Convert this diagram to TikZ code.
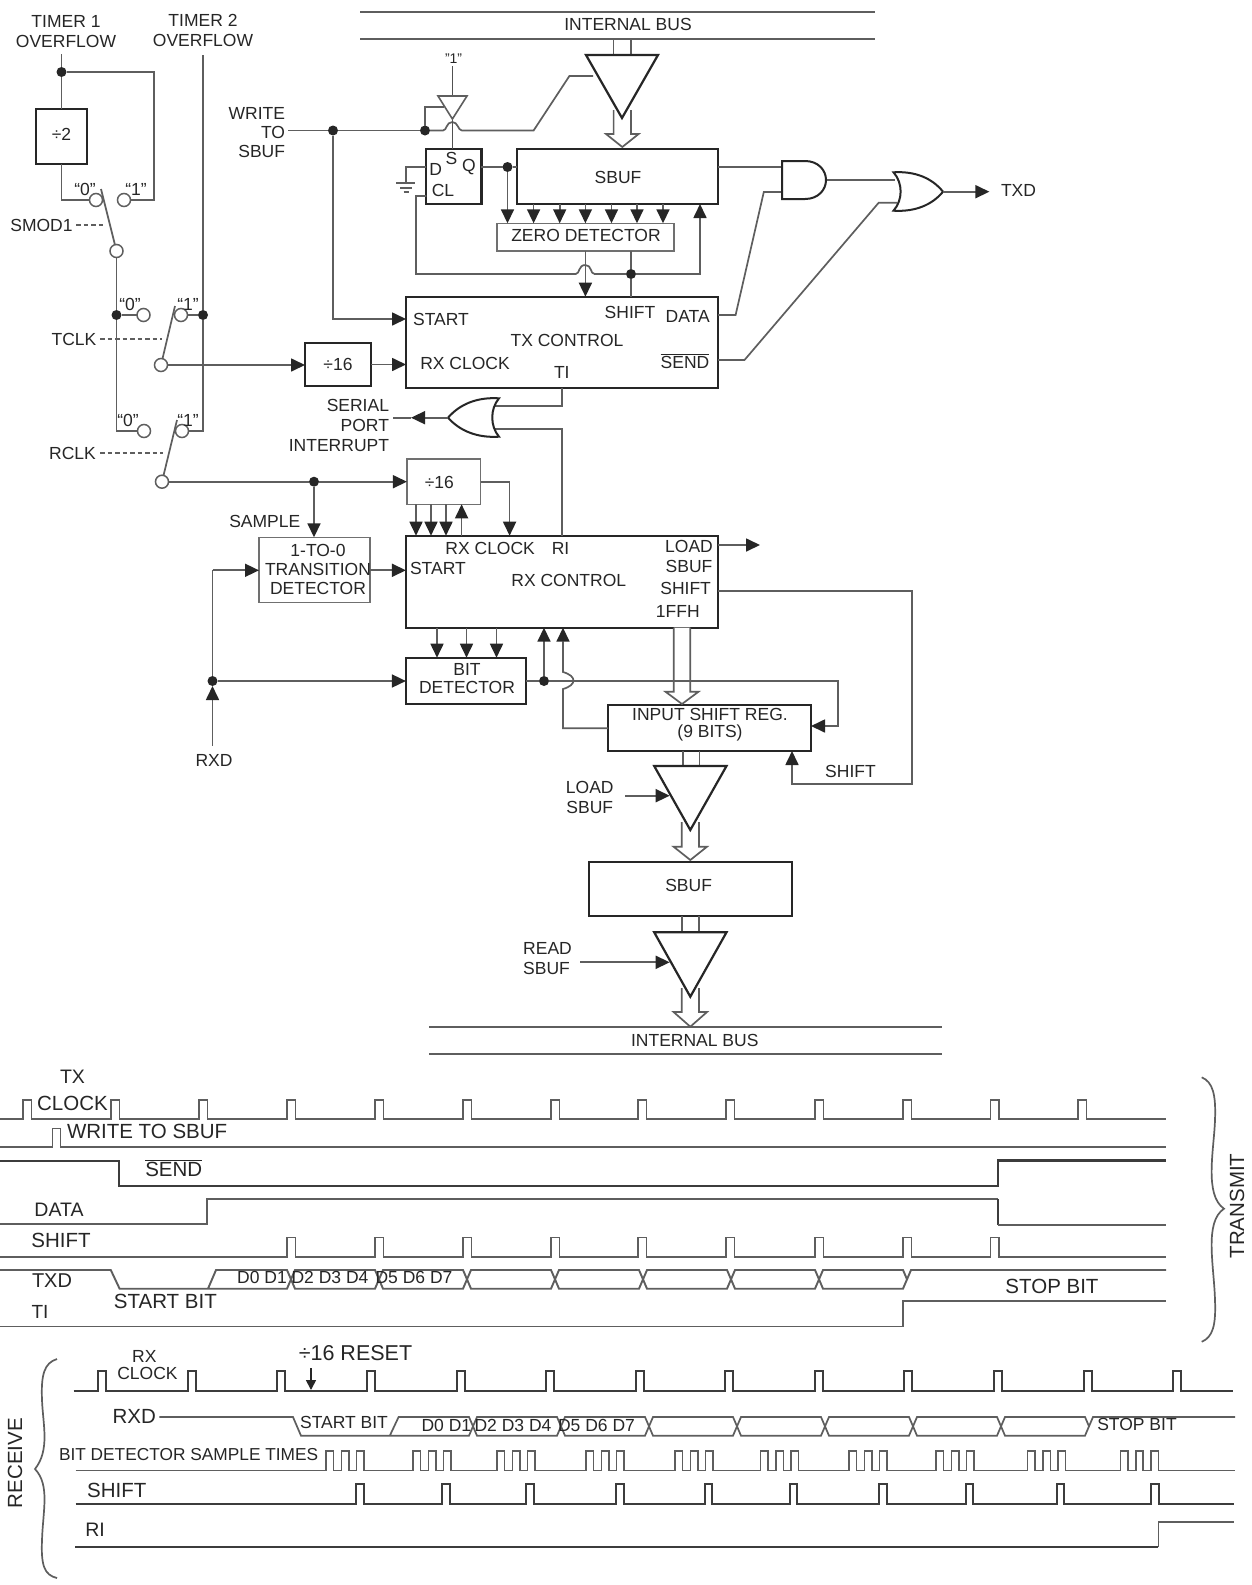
\documentclass[tikz,border=0pt]{standalone}
\usepackage{fontspec}
\setmainfont{Liberation Sans}
\usetikzlibrary{arrows.meta}
\definecolor{wirecol}{HTML}{5E5E5E}
\definecolor{inkcol}{HTML}{262626}
\definecolor{thincol}{HTML}{707070}
\tikzset{
  wire/.style={draw=wirecol,line width=1.7pt,line join=miter},
  arr/.style={wire,-{Triangle[length=14pt,width=13pt,color=inkcol]}},
  tiny wire/.style={draw=inkcol!80!white,line width=1.1pt},
  heavy/.style={draw=inkcol,line width=2.2pt},
  thickbox/.style={draw=inkcol,line width=2.2pt,fill=white,inner sep=0pt,outer sep=0pt,rectangle,font=\fontsize{17.5}{20}\selectfont,text=inkcol},
  thinbox/.style={draw=thincol,line width=1.4pt,fill=white,inner sep=0pt,outer sep=0pt,rectangle,font=\fontsize{17.5}{20}\selectfont,text=inkcol},
  lab/.style={inner sep=0pt,outer sep=0pt,text=inkcol,font=\fontsize{17.5}{20}\selectfont},
  big/.style={lab,font=\fontsize{20.5}{23}\selectfont},
  pin/.style={circle,draw=wirecol,line width=1.5pt,fill=white,minimum size=13pt,inner sep=0pt,outer sep=0pt},
  dotj/.style={circle,fill=inkcol,minimum size=10pt,inner sep=0pt,outer sep=0pt},
  gate/.style={draw=inkcol,line width=2pt,fill=white},
  tri/.style={draw=inkcol,line width=2.2pt,fill=white,line join=miter},
  sig/.style={draw=wirecol,line width=1.6pt},
  sigb/.style={draw=inkcol!90!white,line width=2pt},
  ctl/.style={draw=wirecol,line width=1.2pt,dash pattern=on 4.5pt off 3pt}
}
\newcommand{\bx}[6]{\node[#1,minimum width={(#5-#3)*1pt},minimum height={(#6-#4)*1pt}] (#2) at ({(#3+#5)/2},{(#4+#6)/2}) {};}
\newcommand{\busarr}[6]{\draw[wire,fill=white] ({#1-#5},#2) -- ({#1-#5},#3) -- ({#1-#6},#3) -- (#1,#4) -- ({#1+#6},#3) -- ({#1+#5},#3) -- ({#1+#5},#2);}
\begin{document}
\begin{tikzpicture}[x=1pt,y=-1pt]
\useasboundingbox[fill=white] (0,0) rectangle (1251,1585);
%% ---------- boxes
\bx{thickbox}{d2}{36}{109}{87}{164}
\bx{thickbox}{dsa}{305}{343}{371}{386}
\bx{thickbox}{ff}{426.3}{149}{481.4}{204}
\bx{thickbox}{sbt}{516.8}{149}{718}{204}
\bx{thinbox}{zero}{497}{223.3}{673.8}{251}
\bx{thickbox}{txc}{406}{296.7}{718}{387.7}
\bx{thinbox}{dsb}{406.9}{459}{480.5}{504.3}
\bx{thinbox}{trans}{259}{537.3}{370}{602.7}
\bx{thickbox}{rxc}{405.9}{535.7}{718}{627.7}
\bx{thickbox}{bitd}{405.9}{657.7}{526}{704}
\bx{thickbox}{isr}{608}{705}{811}{751}
\bx{thickbox}{sbr}{588.7}{861.7}{791.9}{916}
%% ---------- pins and junctions
\node[pin] (cza) at (96,200) {};
\node[pin] (coa) at (124,200) {};
\node[pin] (swa) at (116.5,251) {};
\node[pin] (czb) at (143.5,315) {};
\node[pin] (cob) at (181,315) {};
\node[pin] (swb) at (161,365) {};
\node[pin] (czc) at (144,431) {};
\node[pin] (coc) at (182,431) {};
\node[pin] (swc) at (162,481.7) {};
\node[dotj] (ja) at (61.5,72) {};
\node[dotj] (jb) at (116.5,315) {};
\node[dotj] (jc) at (203,315) {};
\node[dotj] (jd) at (314,481.7) {};
\node[dotj] (je) at (333,130.5) {};
\node[dotj] (jf) at (425,130.5) {};
\node[dotj] (jg) at (507.5,167) {};
\node[dotj] (jh) at (631,274) {};
\node[dotj] (ji) at (212.5,681) {};
\node[dotj] (jj) at (544,681) {};
%% ---------- left switch network
\coordinate (tAend) at (61.5,54);
\coordinate (tBend) at (203,55);
\coordinate (armA) at (101,189);
\coordinate (armB) at (175,306);
\coordinate (armC) at (177,420);
\draw[wire] (tAend) -- (ja) -- (d2.north);
\draw[wire] (ja) -- (154,72) -- (154,200) -- (coa);
\draw[wire] (d2.south) -- (61.5,200) -- (cza);
\draw[wire] (armA) -- (swa);
\draw[wire] (swa) -- (jb) -- (116.5,431) -- (czc);
\draw[wire] (jb) -- (czb);
\draw[wire] (tBend) -- (jc) -- (203,431) -- (coc);
\draw[wire] (jc) -- (cob);
\draw[wire] (swb) -- (armB);
\draw[wire] (swc) -- (armC);
\draw[arr] (swb) -- (dsa.west |- swb);
\draw[arr] (dsa.east) -- (txc.west |- dsa.east);
\draw[wire] (swc) -- (jd);
\draw[arr] (jd) -- (dsb.west |- jd);
\draw[arr] (jd) -- (trans.north -| jd);
\coordinate (dashAa) at (76,225);\coordinate (dashAb) at (104,225);
\coordinate (dashBa) at (100,339);\coordinate (dashBb) at (162,339);
\coordinate (dashCa) at (100,453);\coordinate (dashCb) at (163,453);
\draw[ctl] (dashAa) -- (dashAb);
\draw[ctl] (dashBa) -- (dashBb);
\draw[ctl] (dashCa) -- (dashCb);
%% ---------- bus stubs, open arrows, buffers
\coordinate (busTa) at (360,12);\coordinate (busTb) at (874.5,12);
\coordinate (busTc) at (360,39);\coordinate (busTd) at (874.5,39);
\draw[wire] (busTa) -- (busTb);
\draw[wire] (busTc) -- (busTd);
\draw[wire] (613.6,39) -- (613.6,55) (631,39) -- (631,55);
\busarr{622.3}{110}{134}{147}{8.7}{16.3}
\draw[tri] (586,55) -- (658,55) -- (622,118) -- cycle;
\draw[wire] (682.7,751) -- (682.7,766) (699.6,751) -- (699.6,766);
\busarr{690.3}{822}{846.7}{860}{8.6}{16.7}
\draw[tri] (654.2,766) -- (726.5,766) -- (690.3,830) -- cycle;
\draw[wire] (681.7,916) -- (681.7,932.3) (699,916) -- (699,932.3);
\busarr{690.3}{988}{1012}{1026.7}{8.6}{16.7}
\draw[tri] (654.2,932.3) -- (726.5,932.3) -- (690.3,996.7) -- cycle;
\coordinate (busBa) at (429.3,1027.3);\coordinate (busBb) at (941.7,1027.3);
\coordinate (busBc) at (429.3,1054);\coordinate (busBd) at (941.7,1054);
\draw[wire] (busBa) -- (busBb);
\draw[wire] (busBc) -- (busBd);
\busarr{682}{627.7}{691.7}{704}{8.2}{16.5}
%% ---------- write path and set buffer
\coordinate (wrEnd) at (288,130.5);
\draw[wire] (wrEnd) -- (je) -- (jf);
\draw[arr] (je) -- (333,319) -- (txc.west |- 0,319);
\draw[wire] (jf) -- (443,130.5) .. controls (447,130.5) and (446,122) .. (452.4,122) .. controls (458,122) and (458,130.5) .. (462,130.5) -- (533.6,130.5) -- (569.4,76) -- (593,76);
\draw[wire] (jf) -- (425,107) -- (444,107);
\coordinate (oneEnd) at (452.4,66);
\draw[tiny wire] (oneEnd) -- (452.4,96);
\draw[tiny wire] (452.4,119) -- (ff.north -| 452.4,0);
\draw[draw=wirecol,line width=1.6pt,fill=white] (438,96) -- (467,96) -- (452.4,119) -- cycle;
%% ---------- flip-flop and SBUF wiring
\draw[wire] (ff.west |- 0,167) -- (406,167) -- (406,183);
\draw[wire] (396,183.3) -- (415,183.3);
\draw[wire,line width=1.2pt] (400,188) -- (411.5,188);
\draw[wire,line width=1.2pt] (403.6,192) -- (408.6,192);
\draw[wire] (ff.east |- jg) -- (jg) -- (sbt.west |- jg);
\draw[arr] (jg) -- (zero.north -| jg);
\foreach \nx/\xx in {a/533.6,b/559.7,c/585.4,d/611.5,e/637,f/663}{
  \draw[arr] (sbt.south -| \xx,0) -- (zero.north -| \xx,0);
}
\draw[wire] (ff.west |- 0,196) -- (416,196) -- (416,274) -- (575.7,274) .. controls (580,274) and (578,265) .. (585.4,265) .. controls (592,265) and (590,274) .. (594.6,274) -- (jh);
\draw[arr] (jh) -- (700,274) -- (sbt.south -| 700,0);
\draw[wire] (zero.south -| 631,0) -- (jh) -- (txc.north -| 631,0);
\draw[arr] (zero.south -| 585.4,0) -- (txc.north -| 585.4,0);
%% ---------- gates
\draw[wire] (sbt.east |- 0,167) -- (782,167);
\draw[wire] (txc.east |- 0,315) -- (735.6,315) -- (763.8,192) -- (782,192);
\draw[wire] (826,180) -- (895,180);
\draw[wire] (txc.east |- 0,360) -- (744.5,360) -- (878.7,202.7) -- (897,202.7);
\draw[gate] (782,161) -- (805,161) .. controls (818,161) and (826,170) .. (826,180) .. controls (826,190) and (818,199) .. (805,199) -- (782,199) -- cycle;
\draw[gate] (893.5,172.3) .. controls (915,171) and (932,178) .. (943,191.7) .. controls (932,205) and (915,212) .. (893.5,210.7) .. controls (903,200) and (903,183) .. (893.5,172.3) -- cycle;
\coordinate (txdEnd) at (989.4,191.7);
\draw[arr] (943,191.7) -- (txdEnd);
%% ---------- interrupt OR
\draw[wire] (txc.south -| 561.8,0) -- (561.8,406) -- (495,406);
\draw[wire] (rxc.north -| 562,0) -- (562,429.3) -- (495,429.3);
\draw[gate] (499,398.3) .. controls (477,397) and (460,404) .. (448,417.7) .. controls (460,431) and (477,438) .. (499,436.7) .. controls (490,426) and (490,409) .. (499,398.3) -- cycle;
\coordinate (intEnd) at (392.6,417.7);
\draw[arr] (448,417.7) -- (411,417.7);
\draw[wire] (411,417.7) -- (intEnd);
%% ---------- RX wiring
\foreach \xx in {416,431,446}{\draw[arr] (dsb.south -| \xx,0) -- (rxc.north -| \xx,0);}
\draw[arr] (rxc.north -| 461.6,0) -- (dsb.south -| 461.6,0);
\draw[arr] (dsb.east |- jd) -- (509.6,481.7) -- (rxc.north -| 509.6,0);
\draw[arr] (trans.east |- 0,570.3) -- (rxc.west |- 0,570.3);
\draw[arr] (rxc.east |- 0,545) -- (760,545);
\draw[arr] (rxc.east |- 0,591.3) -- (912,591.3) -- (912,784.3) -- (792,784.3) -- (isr.south -| 792,0);
\foreach \xx in {437,466.5,496.5}{\draw[arr] (rxc.south -| \xx,0) -- (bitd.north -| \xx,0);}
\coordinate (rxdEnd) at (212.5,745.7);
\draw[arr] (rxdEnd) -- (ji);
\draw[wire] (ji) -- (212.5,570.3);
\draw[arr] (212.5,570.3) -- (trans.west |- 0,570.3);
\draw[arr] (ji) -- (bitd.west |- ji);
\draw[wire] (bitd.east |- jj) -- (jj);
\draw[arr] (jj) -- (rxc.south -| jj);
\draw[arr] (jj) -- (838.3,681) -- (838.3,726) -- (isr.east |- 0,726);
\draw[arr] (isr.west |- 0,728.3) -- (563,728.3) -- (563,689) .. controls (577,685) and (577,676) .. (563,672) -- (rxc.south -| 563,0);
\coordinate (loadEnd) at (625,795.7);
\coordinate (loadTip) at (669.7,795.7);
\draw[arr] (loadEnd) -- (loadTip);
\coordinate (readEnd) at (580,962.3);
\coordinate (readTip) at (669.7,962.3);
\draw[arr] (readEnd) -- (readTip);
%% ---------- labels: upper diagram
\node[lab,align=center] (tTimerA) at (66,32) {TIMER 1\\OVERFLOW};
\node[lab,align=center] (tTimerB) at (203,30) {TIMER 2\\OVERFLOW};
\node[lab] (tDivTwo) at (61.5,134) {÷2};
\node[lab] (tZa) at (85,189) {“0”};
\node[lab] (tOa) at (136,189) {“1”};
\node[lab] (tSmod) at (41.5,225) {SMOD1};
\node[lab] (tZb) at (130,304) {“0”};
\node[lab] (tOb) at (188,304) {“1”};
\node[lab] (tTclk) at (74,339) {TCLK};
\node[lab] (tZc) at (128,420) {“0”};
\node[lab] (tOc) at (188,420) {“1”};
\node[lab] (tRclk) at (72.5,453) {RCLK};
\node[lab,align=right,anchor=east,font=\fontsize{17.5}{19}\selectfont] (tWrite) at (285,132.5) {WRITE\\TO\\SBUF};
\node[lab] (tBusT) at (628,24) {INTERNAL BUS};
\node[lab,font=\fontsize{14}{16}\selectfont] (tOne) at (453.6,59) {"1"};
\node[lab] (tD) at (435.6,169) {D};
\node[lab] (tS) at (451.5,158) {S};
\node[lab] (tQ) at (469,167) {Q};
\node[lab] (tCL) at (443,190) {CL};
\node[lab] (tSbufT) at (618,177) {SBUF};
\node[lab] (tZero) at (586,235.5) {ZERO DETECTOR};
\node[lab] (tStartT) at (441,319) {START};
\node[lab] (tShiftT) at (630,312) {SHIFT};
\node[lab] (tDataT) at (687.7,316) {DATA};
\node[lab] (tTxc) at (567,340) {TX CONTROL};
\node[lab] (tRxcT) at (465,363) {RX CLOCK};
\node[lab] (tTiT) at (561.8,372) {TI};
\node[lab] (tSendT) at (685,361) {$\overline{\mbox{SEND}}$};
\node[lab] (tDivA) at (338,364) {÷16};
\node[lab] (tTxd) at (1018.5,190) {TXD};
\node[lab,align=right,anchor=east] (tInt) at (389,425.5) {SERIAL\\PORT\\INTERRUPT};
\node[lab] (tDivB) at (439.3,482) {÷16};
\node[lab] (tSample) at (264.8,521.7) {SAMPLE};
\node[lab,align=center,font=\fontsize{17.5}{18.8}\selectfont] (tTrans) at (318,569.5) {1-TO-0\\TRANSITION\\DETECTOR};
\node[lab] (tRxcR) at (490.2,548.3) {RX CLOCK};
\node[lab] (tRi) at (560.5,548.3) {RI};
\node[lab] (tStartR) at (437.9,568.3) {START};
\node[lab] (tRxCtl) at (568.8,580.7) {RX CONTROL};
\node[lab,align=center] (tLoadR) at (689,556) {LOAD\\SBUF};
\node[lab] (tShiftR) at (685.6,588.3) {SHIFT};
\node[lab] (tFfh) at (677.8,611) {1FFH};
\node[lab,align=center,font=\fontsize{17.5}{17.4}\selectfont] (tBit) at (467,678.5) {BIT\\DETECTOR};
\node[lab,align=center,font=\fontsize{17.5}{17.6}\selectfont] (tIsr) at (710,724.5) {INPUT SHIFT REG.\\(9 BITS)};
\node[lab] (tRxd) at (214,760.7) {RXD};
\node[lab] (tShiftL) at (850.5,771) {SHIFT};
\node[lab,align=center] (tLoadB) at (589.8,797) {LOAD\\SBUF};
\node[lab] (tSbufR) at (688.6,885.7) {SBUF};
\node[lab,align=left] (tRead) at (547.5,959) {READ\\SBUF};
\node[lab] (tBusB) at (694.8,1040.7) {INTERNAL BUS};
%% ---------- transmit timing
\draw[sig] (0,1119) foreach \x in {23.1,110.8,199,287,375,463,551,638,726,815,903,990.5,1078} { -- (\x,1119) -- (\x,1100) -- ({\x+8.5},1100) -- ({\x+8.5},1119) } -- (1166,1119);
\draw[sig] (0,1146.7) -- (52.6,1146.7) -- (52.6,1128.3) -- (60.6,1128.3) -- (60.6,1146.7) -- (1166,1146.7);
\draw[sigb,line width=2.2pt] (0,1160.7) -- (118.8,1160.7) -- (118.8,1185.7) -- (997.7,1185.7) -- (997.7,1160.5) -- (1166,1160.5);
\draw[sig] (0,1224) -- (207,1224) -- (207,1199) -- (997.7,1199);
\draw[sigb,line width=1.8pt] (997.7,1199) -- (997.7,1224.7);
\draw[sig] (997.7,1224.7) -- (1166,1224.7);
\draw[sig] (0,1256.7) foreach \x in {287,375,463,551,638,726,815,903,990.5} { -- (\x,1256.7) -- (\x,1237.3) -- ({\x+8.5},1237.3) -- ({\x+8.5},1256.7) } -- (1166,1256.7);
\draw[wire,line width=1.9pt] (0,1270) -- (110.8,1270) -- (119.6,1288.7) -- (208,1288.7) -- (216,1270) -- (287,1270) -- (291,1279.3) -- (287,1288.7) -- (208,1288.7);
\foreach \ca/\cb in {291/379,379/467,467/555,555/643,643/731,731/819,819/907}{
  \draw[wire,line width=1.9pt] (\ca,1279.3) -- ({\ca+4},1270) -- ({\cb-4},1270) -- (\cb,1279.3) -- ({\cb-4},1288.7) -- ({\ca+4},1288.7) -- cycle;
}
\draw[wire,line width=1.9pt] (907,1279.3) -- (911,1270) -- (1166,1270);
\draw[sig] (0,1326.5) -- (903,1326.5) -- (903,1301) -- (1166,1301);
\node[lab,font=\fontsize{19.5}{22}\selectfont] (tTx) at (72.5,1077) {TX};
\node[big] (tClkT) at (72.5,1103) {CLOCK};
\node[big,anchor=west] (tWr) at (67,1131.7) {WRITE TO SBUF};
\node[big] (tSend) at (173.8,1168) {$\overline{\mbox{SEND}}$};
\node[big,font=\fontsize{19.5}{22}\selectfont] (tData) at (59,1210) {DATA};
\node[big] (tShiftW) at (61,1240.7) {SHIFT};
\node[big,font=\fontsize{20}{22}\selectfont] (tTxdW) at (52,1281) {TXD};
\node[big] (tStW) at (165.4,1301.7) {START BIT};
\node[big,font=\fontsize{19}{22}\selectfont] (tTiW) at (40,1312) {TI};
\node[lab] (tDa) at (262,1277) {D0 D1};
\node[lab] (tDb) at (330,1277) {D2 D3 D4};
\node[lab] (tDc) at (414,1277) {D5 D6 D7};
\node[big] (tStop) at (1052,1286) {STOP BIT};
\node[big,rotate=90] (tTransmit) at (1237,1206) {TRANSMIT};
\draw[wire] (1201.7,1077.3) .. controls (1213,1082) and (1216,1095) .. (1215,1120) .. controls (1214,1150) and (1204,1195) .. (1224,1208.7) .. controls (1204,1222) and (1214,1265) .. (1215,1300) .. controls (1216,1325) and (1213,1337) .. (1201.7,1341.8);
%% ---------- receive timing
\draw[sigb] (73.7,1390.5) foreach \x in {98.4,188,277.4,367,456.5,546,635.5,725,815,904,994,1083.6,1173} { -- (\x,1390.5) -- (\x,1371) -- ({\x+8},1371) -- ({\x+8},1390.5) } -- (1233,1390.5);
\coordinate (rstTop) at (311,1368);
\coordinate (rstTip) at (311,1390);
\draw[wire,-{Triangle[length=10pt,width=10pt,color=inkcol]},draw=inkcol] (rstTop) -- (rstTip);
\draw[wire] (159.4,1417) -- (293,1417) -- (301,1435.7) -- (389.8,1435.7) -- (398.6,1417) -- (469,1417) -- (473,1426.3) -- (469,1435.7) -- (389.8,1435.7);
\foreach \ca/\cb in {473/561,561/649,649/737,737/825,825/913,913/1001,1001/1089}{
  \draw[wire] (\ca,1426.3) -- ({\ca+4},1417) -- ({\cb-4},1417) -- (\cb,1426.3) -- ({\cb-4},1435.7) -- ({\ca+4},1435.7) -- cycle;
}
\draw[wire] (1089,1426.3) -- (1093,1417) -- (1235,1417);
\draw[sig] (75.7,1470.5) foreach \x in {326,413,497,586,675,760.5,849,936,1027.5,1120.4} { -- (\x,1470.5) -- (\x,1451) -- ({\x+7.5},1451) -- ({\x+7.5},1470.5) -- ({\x+15.3},1470.5) -- ({\x+15.3},1451) -- ({\x+22.8},1451) -- ({\x+22.8},1470.5) -- ({\x+30.6},1470.5) -- ({\x+30.6},1451) -- ({\x+38},1451) -- ({\x+38},1470.5) } -- (1235,1470.5);
\draw[sigb] (75.7,1503.7) foreach \x in {356,442.4,526,616,704.7,789.6,879,965.8,1056.6,1151} { -- (\x,1503.7) -- (\x,1484.3) -- ({\x+7.5},1484.3) -- ({\x+7.5},1503.7) } -- (1234,1503.7);
\draw[sigb] (75,1547) -- (1158.3,1547);
\draw[sig] (1158.3,1547) -- (1158.3,1522) -- (1234,1522);
\node[lab] (tRx) at (144.3,1356) {RX};
\node[lab] (tClkR) at (147.5,1373.3) {CLOCK};
\node[big,font=\fontsize{21.5}{24}\selectfont] (tReset) at (355.5,1352.7) {÷16 RESET};
\node[big] (tRxdR) at (134.3,1416) {RXD};
\node[lab] (tSbR) at (344,1422.3) {START BIT};
\node[lab] (tDd) at (446.4,1425.3) {D0 D1};
\node[lab] (tDe) at (513,1425.3) {D2 D3 D4};
\node[lab] (tDf) at (596.5,1425.3) {D5 D6 D7};
\node[lab] (tSpR) at (1137,1424.4) {STOP BIT};
\node[lab,anchor=west,font=\fontsize{17.3}{20}\selectfont] (tBds) at (59,1455) {BIT DETECTOR SAMPLE TIMES};
\node[big] (tShiftRw) at (116.8,1490) {SHIFT};
\node[big,font=\fontsize{19.5}{22}\selectfont] (tRiW) at (95,1530) {RI};
\node[big,rotate=90] (tReceive) at (15,1463) {RECEIVE};
\draw[wire] (57,1359) .. controls (44,1363) and (41,1375) .. (42,1400) .. controls (43,1425) and (50,1450) .. (35,1469) .. controls (50,1485) and (43,1510) .. (42,1540) .. controls (41,1565) and (44,1575) .. (57,1578);
\end{tikzpicture}
\end{document}
